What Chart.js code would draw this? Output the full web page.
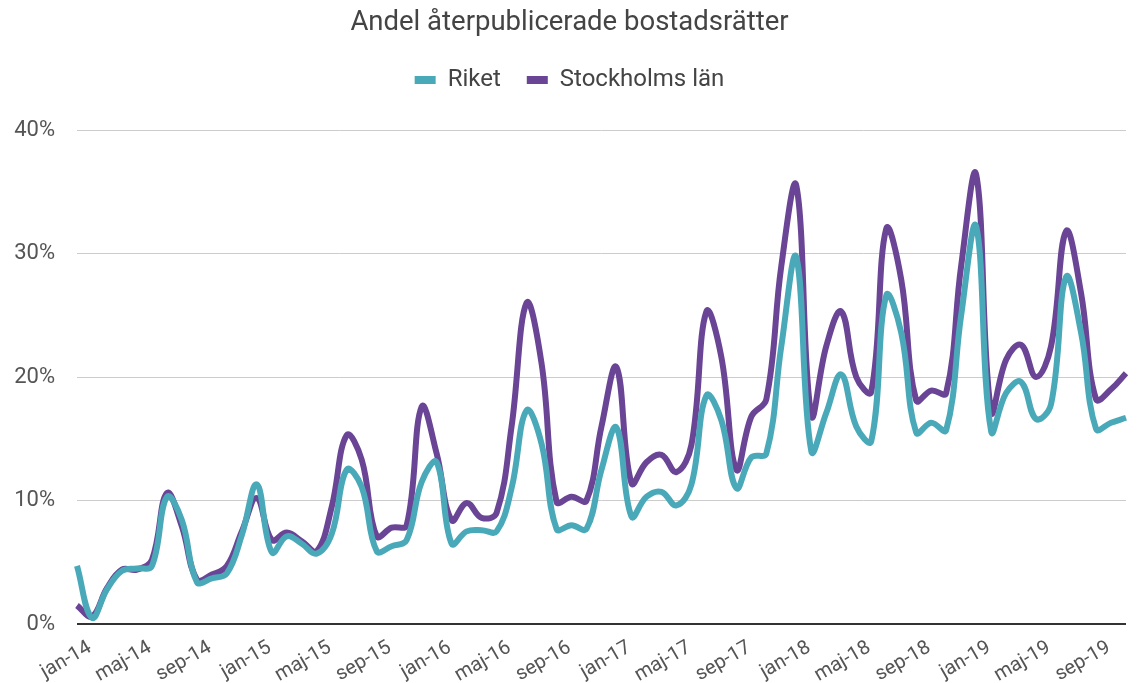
<!DOCTYPE html>
<html>
<head>
<meta charset="utf-8">
<script src="https://cdn.jsdelivr.net/npm/chart.js@4/dist/chart.umd.min.js"></script>
<style>
  html, body { margin: 0; padding: 0; background: #fff; }
  #wrap { width: 1142px; height: 683px; }
</style>
</head>
<body>
<div id="wrap"><canvas id="chart"></canvas></div>
<script>
// månader jan-14 .. nov-19
const months = ['jan', 'feb', 'mar', 'apr', 'maj', 'jun', 'jul', 'aug', 'sep', 'okt', 'nov', 'dec'];
const years = ['14', '15', '16', '17', '18', '19'];
const labels = [];
years.forEach(y => months.forEach(m => labels.push(m + '-' + y)));
labels.length = 71;

// andel återpublicerade (%)
const riket = [
  4.7, 0.5, 2.8, 4.3, 4.5, 4.7, 10.3, 8.4, 3.4, 3.7, 4.1, 7.2,
  11.3, 5.8, 7.1, 6.5, 5.7, 7.3, 12.5, 11.1, 5.9, 6.3, 6.8, 11.5,
  13.1, 6.5, 7.5, 7.6, 7.5, 11.0, 17.3, 14.6, 7.7, 8.0, 7.7, 12.5,
  15.9, 8.7, 10.3, 10.7, 9.6, 11.3, 18.5, 16.5, 11.0, 13.5, 13.8, 22.5,
  29.7, 14.0, 17.1, 20.2, 16.0, 14.8, 26.6, 23.6, 15.5, 16.3, 15.7, 25.0,
  32.2, 15.6, 18.7, 19.6, 16.6, 17.8, 28.1, 23.6, 15.8, 16.3, 16.7
];
const stockholm = [
  1.5, 0.6, 2.9, 4.4, 4.4, 5.2, 10.6, 7.9, 3.6, 4.0, 4.7, 7.5,
  10.2, 6.8, 7.4, 6.7, 5.9, 9.5, 15.3, 13.3, 7.1, 7.8, 8.0, 17.6,
  13.8, 8.4, 9.8, 8.6, 9.0, 16.0, 26.0, 21.1, 9.9, 10.3, 10.0, 16.0,
  20.8, 11.4, 13.1, 13.7, 12.3, 14.5, 25.3, 21.6, 12.5, 16.8, 18.2, 29.0,
  35.5, 16.9, 22.5, 25.3, 20.0, 18.8, 32.0, 27.9, 18.1, 18.9, 18.7, 29.0,
  36.4, 17.2, 21.4, 22.6, 20.0, 22.5, 31.8, 26.8, 18.2, 19.0, 20.3
];
const yTicks = [0, 10, 20, 30, 40];

Chart.defaults.font.family = 'Roboto, sans-serif';
Chart.defaults.color = '#555';

// extra luft under legenden
const legendGap = {
  id: 'legendGap',
  beforeInit(chart) {
    const fit = chart.legend.fit;
    chart.legend.fit = function () {
      fit.call(this);
      this.height += 28;
    };
  },
};

new Chart(document.getElementById('chart'), {
  type: 'line',
  data: {
    labels: labels,
    datasets: [
      {
        label: 'Riket',
        data: riket,
        borderColor: '#4aa9b9',
        backgroundColor: '#4aa9b9',
        borderWidth: 6,
        pointRadius: 0,
        tension: 0.4,
      },
      {
        label: 'Stockholms län',
        data: stockholm,
        borderColor: '#6a4495',
        backgroundColor: '#6a4495',
        borderWidth: 6,
        pointRadius: 0,
        tension: 0.4,
      },
    ],
  },
  plugins: [legendGap],
  options: {
    responsive: true,
    maintainAspectRatio: false,
    animation: false,
    layout: { padding: { left: 0, right: 3, top: 0, bottom: 0 } },
    plugins: {
      title: {
        display: true,
        text: 'Andel återpublicerade bostadsrätter',
        color: '#444',
        font: { size: 27.5, weight: 'normal' },
        padding: { top: 7, bottom: 2 },
      },
      legend: {
        labels: {
          color: '#444',
          font: { size: 24 },
          boxWidth: 21,
          boxHeight: 8,
          padding: 26,
          generateLabels: chart =>
            Chart.defaults.plugins.legend.labels.generateLabels(chart).map(l => ({ ...l, lineWidth: 0 })),
        },
      },
      tooltip: { enabled: false },
    },
    scales: {
      x: {
        offset: false,
        grid: { display: false },
        border: { display: false },
        ticks: {
          autoSkip: false,
          minRotation: 30,
          maxRotation: 30,
          color: '#555',
          font: { size: 20 },
          padding: 4,
          labelOffset: 13,
          callback: (v, i) => (i % 4 === 0 ? labels[i] : ''),
        },
        afterFit: s => { s.height = 59; },
      },
      y: {
        min: 0,
        max: 40,
        afterBuildTicks: s => { s.ticks = yTicks.map(v => ({ value: v })); },
        border: { display: false },
        grid: {
          drawTicks: false,
          color: c => (c.tick.value === 0 ? '#333' : '#ccc'),
          lineWidth: c => (c.tick.value === 0 ? 2 : 1),
        },
        ticks: {
          color: '#555',
          font: { size: 22 },
          padding: 22,
          callback: v => v + '%',
        },
        afterFit: s => { s.width = 77; },
      },
    },
  },
});
</script>
</body>
</html>
